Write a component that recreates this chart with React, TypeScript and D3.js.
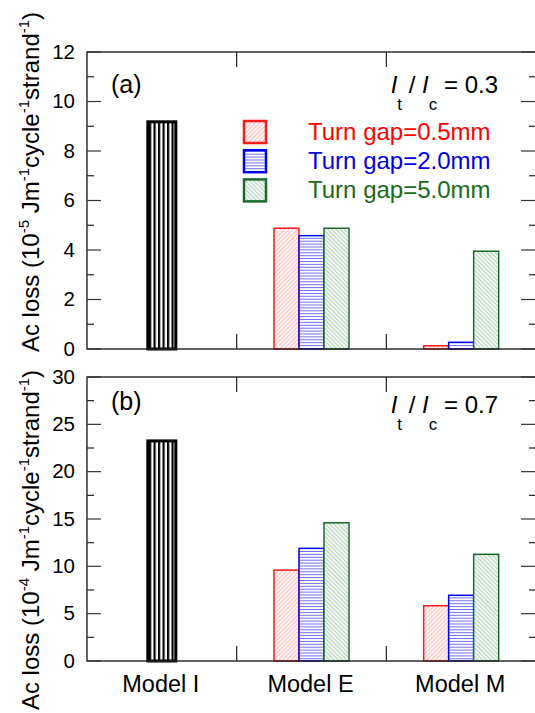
import React from "react";
import * as d3 from "d3";

const categories = ["Model I", "Model E", "Model M"];
const gapLabels = ["Turn gap=0.5mm", "Turn gap=2.0mm", "Turn gap=5.0mm"];
const gapCategories = ["Model E", "Model M"];

// panel (a), It/Ic = 0.3, units 1e-5
const modelILossA = 9.18;
const gap05LossA = [4.88, 0.13];
const gap20LossA = [4.58, 0.27];
const gap50LossA = [4.88, 3.95];
const yTicksA = [0, 2, 4, 6, 8, 10, 12];

// panel (b), It/Ic = 0.7, units 1e-4
const modelILossB = 23.25;
const gap05LossB = [9.6, 5.84];
const gap20LossB = [11.9, 6.94];
const gap50LossB = [14.6, 11.27];
const yTicksB = [0, 5, 10, 15, 20, 25, 30];

const W = 535;
const H = 713;
const FONT = "'Liberation Sans', Arial, Helvetica, sans-serif";
const strokeColors = ["#ff1a1a", "#0000ee", "#1b6b2e"];
const textColors = ["#ff0000", "#0000dd", "#1a6b1a"];
const patternIds = ["hatchRed", "hatchBlue", "hatchGreen"];

const xScale = d3.scaleBand().domain(categories).range([87, 536]);
const gapScale = d3.scaleBand().domain(gapLabels).range([0, 75]);

function Panel(props) {
  const { top, bottom, ticks, modelI, series, label, labelY, ratio, ratioY, exp, titleY } = props;
  const max = ticks[ticks.length - 1];
  const step = ticks[1] - ticks[0];
  const y = d3.scaleLinear().domain([0, max]).range([bottom, top]);
  const minor = d3.range(step / 2, max, step);
  const left = xScale.range()[0];
  const right = xScale.range()[1];
  const bw = xScale.bandwidth();
  const seps = categories.slice(1).map((c) => xScale(c));
  const iw = 28;
  const ix = xScale("Model I") + bw / 2 - iw / 2;
  const groupOff = (bw - 75) / 2;

  return (
    <g>
      {/* bars */}
      <rect x={ix} y={y(modelI)} width={iw} height={y(0) - y(modelI)}
        fill="url(#stripesBlack)" stroke="#000" strokeWidth={3} />
      {series.map((vals, si) =>
        vals.map((v, ci) => (
          <rect key={si + "-" + ci}
            x={xScale(gapCategories[ci]) + groupOff + gapScale(gapLabels[si])}
            y={y(v)} width={gapScale.bandwidth()} height={y(0) - y(v)}
            fill={`url(#${patternIds[si]})`} stroke={strokeColors[si]} strokeWidth={1.5} />
        ))
      )}
      {/* frame */}
      <rect x={left} y={top} width={right - left} height={bottom - top}
        fill="none" stroke="#222" strokeWidth={1.4} />
      {/* category separator ticks */}
      {seps.map((sx) => (
        <g key={sx} stroke="#222" strokeWidth={1.2}>
          <line x1={sx} x2={sx} y1={top} y2={top + 15} />
          <line x1={sx} x2={sx} y1={bottom} y2={bottom - 15} />
        </g>
      ))}
      {/* y ticks */}
      {ticks.map((t) => (
        <g key={"M" + t} stroke="#333" strokeWidth={1.2}>
          <line x1={left} x2={left + 14} y1={y(t)} y2={y(t)} />
          <line x1={right} x2={right - 15} y1={y(t)} y2={y(t)} />
        </g>
      ))}
      {minor.map((t) => (
        <g key={"m" + t} stroke="#222" strokeWidth={1.2}>
          <line x1={left} x2={left + 7} y1={y(t)} y2={y(t)} />
          <line x1={right} x2={right - 7} y1={y(t)} y2={y(t)} />
        </g>
      ))}
      {ticks.map((t) => (
        <text key={"l" + t} x={75} y={y(t) - 1} textAnchor="end" dominantBaseline="central"
          fontSize={20.5} fontFamily={FONT} fill="#000">{t}</text>
      ))}
      {/* panel label */}
      <text x={111} y={labelY} fontSize={25} fontFamily={FONT}>{label}</text>
      <text x={498} y={ratioY} textAnchor="end" fontSize={24} fontFamily={FONT}>
        <tspan fontStyle="italic">I</tspan>
        <tspan fontSize={17} dy={17}>t</tspan>
        <tspan dy={-17}>{" / "}</tspan>
        <tspan fontStyle="italic">I</tspan>
        <tspan fontSize={17} dy={17}>c</tspan>
        <tspan dy={-17}>{" = " + ratio}</tspan>
      </text>
      {/* y title */}
      <text transform={`translate(39,${titleY}) rotate(-90)`} textAnchor="middle"
        fontSize={24} fontFamily={FONT}>
        <tspan>Ac loss (10</tspan>
        <tspan fontSize={15} dy={-10}>{exp}</tspan>
        <tspan dy={10}> Jm</tspan>
        <tspan fontSize={15} dy={-10}>-1</tspan>
        <tspan dy={10}>cycle</tspan>
        <tspan fontSize={15} dy={-10}>-1</tspan>
        <tspan dy={10}>strand</tspan>
        <tspan fontSize={15} dy={-10}>-1</tspan>
        <tspan dy={10}>)</tspan>
      </text>
    </g>
  );
}

export default function App() {
  return (
    <svg width={W} height={H} style={{ position: "absolute", left: 0, top: 0, background: "#fff" }}>
      <defs>
        <pattern id="stripesBlack" patternUnits="userSpaceOnUse" width={4.5} height={10} x={149}>
          <rect width={4.5} height={10} fill="#000" />
          <rect x={2.2} width={2.3} height={10} fill="#fff" />
        </pattern>
        <pattern id="hatchRed" patternUnits="userSpaceOnUse" width={3} height={3} patternTransform="rotate(45)">
          <rect width={3} height={3} fill="#fff4f4" />
          <line x1={0} y1={0} x2={0} y2={3} stroke="#ff8a8a" strokeWidth={1} />
        </pattern>
        <pattern id="hatchBlue" patternUnits="userSpaceOnUse" width={4} height={2.9}>
          <rect width={4} height={2.9} fill="#fff" />
          <line x1={0} y1={0.5} x2={4} y2={0.5} stroke="#6f6fff" strokeWidth={1} />
        </pattern>
        <pattern id="hatchGreen" patternUnits="userSpaceOnUse" width={3} height={3} patternTransform="rotate(-45)">
          <rect width={3} height={3} fill="#f3f8f3" />
          <line x1={0} y1={0} x2={0} y2={3} stroke="#80aa8a" strokeWidth={1} />
        </pattern>
      </defs>
      <rect width={W} height={H} fill="#fff" />
      <Panel top={52} bottom={349} ticks={yTicksA} modelI={modelILossA}
        series={[gap05LossA, gap20LossA, gap50LossA]} label="(a)" labelY={93}
        ratio="0.3" ratioY={92.5} exp="-5" titleY={182} />
      <Panel top={377} bottom={661} ticks={yTicksB} modelI={modelILossB}
        series={[gap05LossB, gap20LossB, gap50LossB]} label="(b)" labelY={410}
        ratio="0.7" ratioY={413} exp="-4" titleY={540} />
      {/* legend */}
      {gapLabels.map((g, i) => {
        const sy = 121 + i * 29.2;
        return (
          <g key={g}>
            <rect x={244} y={sy} width={22} height={22} fill={`url(#${patternIds[i]})`}
              stroke={strokeColors[i]} strokeWidth={2.5} />
            <text x={308} y={sy + 18.5} fontSize={24} fontFamily={FONT} fill={textColors[i]}>{g}</text>
          </g>
        );
      })}
      {/* category labels */}
      {categories.map((c) => (
        <text key={c} x={xScale(c) + xScale.bandwidth() / 2 - 1} y={691.5} textAnchor="middle"
          fontSize={23.5} fontFamily={FONT}>{c}</text>
      ))}
    </svg>
  );
}
